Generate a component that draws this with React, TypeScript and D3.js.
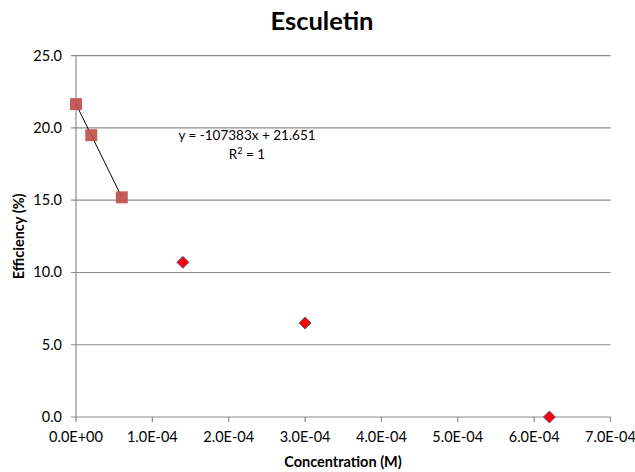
import React from "react";
import * as d3 from "d3";

const squareX = [0, 2e-5, 6e-5];
const squareY = [21.65, 19.5, 15.2];
const diamondX = [1.4e-4, 3.0e-4, 6.2e-4];
const diamondY = [10.7, 6.5, 0.0];
const xTicks = [0, 1e-4, 2e-4, 3e-4, 4e-4, 5e-4, 6e-4, 7e-4];
const xTickLabels = ["0.0E+00", "1.0E-04", "2.0E-04", "3.0E-04", "4.0E-04", "5.0E-04", "6.0E-04", "7.0E-04"];
const yTicks = [0, 5, 10, 15, 20, 25];
const yTickLabels = ["0.0", "5.0", "10.0", "15.0", "20.0", "25.0"];
const slope = -107383;
const intercept = 21.651;

const W = 635, H = 472;
const FONT = "Lato, 'Open Sans', sans-serif";

export default function App() {
  const x = d3.scaleLinear().domain([0, 7e-4]).range([76, 610.5]);
  const y = d3.scaleLinear().domain([0, 25]).range([417, 55.7]);
  const r = 6;
  const diamond = `M0,${-r}L${r},0L0,${r}L${-r},0Z`;
  const trend = d3.line<number>().x((d) => x(d)).y((d) => y(slope * d + intercept));
  return (
    <svg width={W} height={H} style={{ position: "absolute", left: 0, top: 0, background: "#fff" }}>
      <text x={322} y={30} textAnchor="middle" fontFamily={FONT} fontWeight="bold" fontSize={25.5}>Esculetin</text>
      {yTicks.map((t, i) => (
        <g key={i}>
          <line x1={x(0) - 5} x2={x(7e-4)} y1={y(t)} y2={y(t)} stroke="#8c8c8c" strokeWidth={1.2} />
          <text x={62} y={y(t) + 5} textAnchor="end" fontFamily={FONT} fontSize={14.5}>{yTickLabels[i]}</text>
        </g>
      ))}
      <line x1={x(0)} x2={x(0)} y1={y(25)} y2={y(0)} stroke="#8c8c8c" strokeWidth={1.2} />
      {xTicks.map((t, i) => (
        <g key={i}>
          <line x1={x(t)} x2={x(t)} y1={y(0)} y2={y(0) + 5} stroke="#8c8c8c" strokeWidth={1.2} />
          <text x={x(t)} y={442} textAnchor="middle" fontFamily={FONT} fontSize={14.5}>{xTickLabels[i]}</text>
        </g>
      ))}
      <path d={trend([0, 6e-5]) || ""} stroke="#000" strokeWidth={1} fill="none" />
      {squareX.map((v, i) => (
        <rect key={i} x={x(v) - 6} y={y(squareY[i]) - 6} width={12} height={12} fill="#c0504d" opacity={0.92} />
      ))}
      {diamondX.map((v, i) => (
        <path key={i} d={diamond} transform={`translate(${x(v)},${y(diamondY[i])})`} fill="#ff0000" stroke="#4f5b9a" strokeWidth={1} />
      ))}
      <text x={247} y={140} textAnchor="middle" fontFamily={FONT} fontSize={13.5}>y = -107383x + 21.651</text>
      <text x={247} y={159} textAnchor="middle" fontFamily={FONT} fontSize={13.5}>
        R<tspan dy={-5} fontSize={9}>2</tspan><tspan dy={5}> = 1</tspan>
      </text>
      <text x={343} y={467} textAnchor="middle" fontFamily={FONT} fontWeight="bold" fontSize={14.5}>Concentration (M)</text>
      <text transform={`translate(24,${y(12.5)}) rotate(-90)`} textAnchor="middle" fontFamily={FONT} fontWeight="bold" fontSize={14.5}>Efficiency (%)</text>
    </svg>
  );
}
